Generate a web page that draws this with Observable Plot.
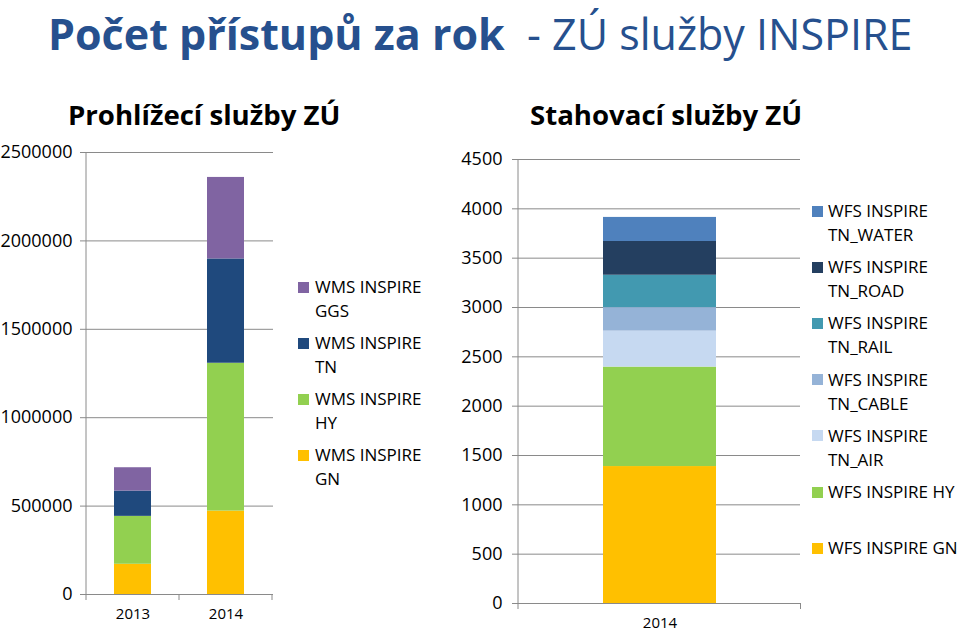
<!DOCTYPE html>
<html><head><meta charset="utf-8">
<script src="https://cdn.jsdelivr.net/npm/d3@7"></script>
<script src="https://cdn.jsdelivr.net/npm/@observablehq/plot@0.6"></script>
<style>
body{margin:0;background:#fff;}
#root{position:relative;width:960px;height:632px;overflow:hidden;font-family:"Open Sans",sans-serif;color:#000;}
.abs{position:absolute;white-space:pre;}
.sq{position:absolute;width:11px;height:11px;}
.lg{position:absolute;font-size:17px;line-height:24px;white-space:pre;}
</style></head><body><div id="root"></div>
<script>
// ---- data: Prohlížecí služby (WMS) ----
const wmsYears = ["2013", "2014"];
const wmsSeries = ["WMS INSPIRE GN", "WMS INSPIRE HY", "WMS INSPIRE TN", "WMS INSPIRE GGS"];
const wmsGN  = [171000, 472000];
const wmsHY  = [271000, 836000];
const wmsTN  = [143000, 590000];
const wmsGGS = [132000, 461000];
const wmsColors = ["#FFC000", "#92D050", "#1F497D", "#8064A2"];
const wmsTicks = [0, 500000, 1000000, 1500000, 2000000, 2500000];
const wmsLegend = [["WMS INSPIRE", "GGS"], ["WMS INSPIRE", "TN"], ["WMS INSPIRE", "HY"], ["WMS INSPIRE", "GN"]];

// ---- data: Stahovací služby (WFS) ----
const wfsYears = ["2014"];
const wfsSeries = ["WFS INSPIRE GN", "WFS INSPIRE HY", "WFS INSPIRE TN_AIR", "WFS INSPIRE TN_CABLE",
                   "WFS INSPIRE TN_RAIL", "WFS INSPIRE TN_ROAD", "WFS INSPIRE TN_WATER"];
const wfsGN    = [1388];
const wfsHY    = [1008];
const wfsAIR   = [365];
const wfsCABLE = [238];
const wfsRAIL  = [328];
const wfsROAD  = [342];
const wfsWATER = [244];
const wfsColors = ["#FFC000", "#92D050", "#C6D9F1", "#95B3D7", "#4299B0", "#243F60", "#4F81BD"];
const wfsTicks = [0, 500, 1000, 1500, 2000, 2500, 3000, 3500, 4000, 4500];
const wfsLegend = [["WFS INSPIRE", "TN_WATER"], ["WFS INSPIRE", "TN_ROAD"], ["WFS INSPIRE", "TN_RAIL"],
                   ["WFS INSPIRE", "TN_CABLE"], ["WFS INSPIRE", "TN_AIR"], ["WFS INSPIRE HY"], ["WFS INSPIRE GN"]];

const root = document.getElementById("root");

function addText(txt, left, top, style) {
  const d = document.createElement("div");
  d.className = "abs";
  d.style.left = left + "px"; d.style.top = top + "px";
  Object.assign(d.style, style);
  d.innerHTML = txt;
  root.appendChild(d);
  return d;
}

// Title
addText('<span style="font-weight:700">Počet přístupů za rok</span>  - ZÚ služby INSPIRE', 48, 4,
  {fontSize: "43px", lineHeight: "60px", color: "#26508E"});
addText("Prohlížecí služby ZÚ", 68, 97, {fontSize: "27.6px", lineHeight: "34px", fontWeight: "700"});
addText("Stahovací služby ZÚ", 530, 97, {fontSize: "27.6px", lineHeight: "34px", fontWeight: "700"});

function buildRows(years, series, arrays) {
  const rows = [];
  years.forEach((yr, i) => series.forEach((s, j) => rows.push({year: yr, series: s, value: arrays[j][i]})));
  return rows;
}

function makeChart(cfg) {
  const rows = buildRows(cfg.years, cfg.series, cfg.arrays);
  const p = Plot.plot({
    width: cfg.width, height: cfg.height,
    marginLeft: cfg.ml, marginRight: cfg.mr, marginTop: cfg.mt, marginBottom: cfg.mb,
    style: {fontFamily: "Open Sans", background: "transparent", overflow: "visible", color: "#000"},
    x: {domain: cfg.years, paddingInner: 0.6, paddingOuter: 0.3, label: null},
    y: {domain: [0, cfg.ticks[cfg.ticks.length - 1]], label: null},
    color: {domain: cfg.series, range: cfg.colors},
    marks: [
      Plot.ruleY(cfg.ticks, {stroke: "#8a8a8a", strokeWidth: 1}),
      Plot.barY(rows, {x: "year", y: "value", fill: "series"}),
      Plot.axisY({ticks: cfg.ticks, tickSize: 6, tickPadding: cfg.yPad, tickFormat: d => String(d),
                  stroke: "#8a8a8a", fill: "#000", fontSize: 18, label: null}),
      Plot.axisX({tickSize: 0, tickPadding: cfg.xPad, fill: "#000", fontSize: 15, label: null})
    ]
  });
  const xs = p.scale("x"), ys = p.scale("y");
  const svg = d3.select(p);
  const x0 = xs.range[0];
  const yb = ys.range[0], yt = ys.range[1];
  svg.append("line").attr("x1", x0).attr("x2", x0).attr("y1", yb).attr("y2", yt)
     .attr("stroke", "#8a8a8a").attr("stroke-width", 1);
  const bounds = [x0];
  cfg.years.forEach(d => bounds.push(xs.apply(d) + xs.bandwidth / 2 + xs.step / 2));
  bounds.forEach(b => svg.append("line").attr("x1", b).attr("x2", b).attr("y1", yb).attr("y2", yb + 6)
     .attr("stroke", "#8a8a8a").attr("stroke-width", 1));
  p.style.position = "absolute";
  p.style.left = cfg.left + "px";
  p.style.top = cfg.top + "px";
  root.appendChild(p);
}

makeChart({years: wmsYears, series: wmsSeries, arrays: [wmsGN, wmsHY, wmsTN, wmsGGS], colors: wmsColors,
  ticks: wmsTicks, left: 0, top: 140, width: 280, height: 492, ml: 86, mr: 7, mt: 12, mb: 38, yPad: 8, xPad: 14});
makeChart({years: wfsYears, series: wfsSeries, arrays: [wfsGN, wfsHY, wfsAIR, wfsCABLE, wfsRAIL, wfsROAD, wfsWATER],
  colors: wfsColors, ticks: wfsTicks, left: 440, top: 140, width: 370, height: 492, ml: 78, mr: 10, mt: 19, mb: 29, yPad: 10, xPad: 14});

function legend(items, colors, sqLeft, textLeft, top0, step) {
  items.forEach((lines, i) => {
    const cy = top0 + i * step;
    const sq = document.createElement("div");
    sq.className = "sq";
    sq.style.left = sqLeft + "px"; sq.style.top = (cy - 5.5) + "px";
    sq.style.background = colors[i];
    root.appendChild(sq);
    const t = document.createElement("div");
    t.className = "lg";
    t.style.left = textLeft + "px"; t.style.top = (cy - 12) + "px";
    t.textContent = lines.join("\n");
    root.appendChild(t);
  });
}
legend(wmsLegend, wmsColors.slice().reverse(), 298, 315, 287, 56);
legend(wfsLegend, wfsColors.slice().reverse(), 812, 828, 211, 56.2);
</script></body></html>
